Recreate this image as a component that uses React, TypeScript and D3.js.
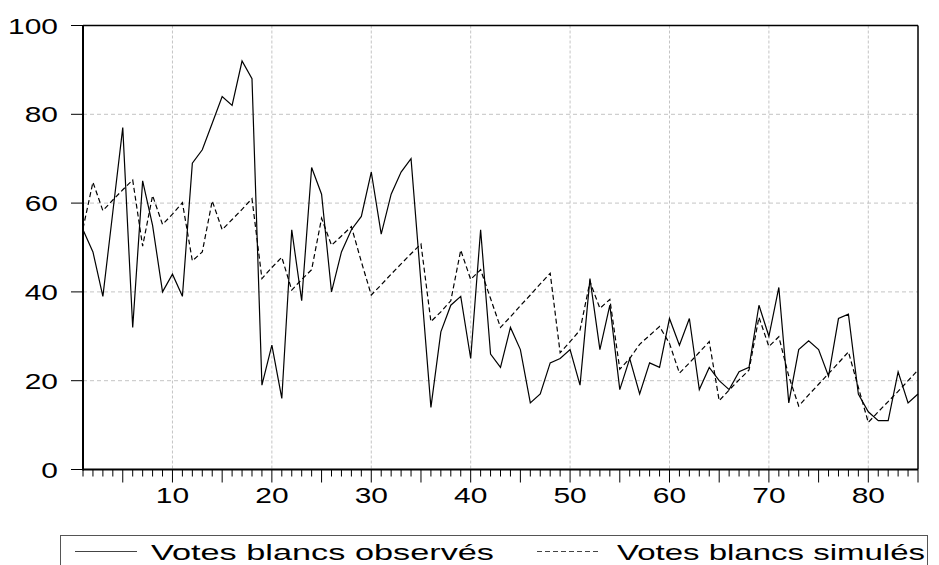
import React from "react";
import * as d3 from "d3";

const observed: number[] = [
  54, 49, 39, 58, 77, 32, 65, 55, 40, 44, 39, 69, 72, 78, 84, 82, 92, 88, 19, 28,
  16, 54, 38, 68, 62, 40, 49, 54, 57, 67, 53, 62, 67, 70, 42, 14, 31, 37, 39, 25,
  54, 26, 23, 32, 27, 15, 17, 24, 25, 27, 19, 43, 27, 37, 18, 25, 17, 24, 23, 34,
  28, 34, 18, 23, 20, 18, 22, 23, 37, 30, 41, 15, 27, 29, 27, 21, 34, 35, 17, 13,
  11, 11, 22, 15, 17,
];

const simulated: number[] = [
  54.3, 64.7, 58.3, 60.7, 63, 65.2, 50.3, 61.7, 55.2, 57.5, 60.1, 47, 49, 60.5, 54, 56.3, 58.6, 61, 43, 45.5,
  47.8, 40.4, 42.8, 45, 56.6, 50.5, 52.6, 54.7, 46.8, 39.3, 41.6, 44, 46.3, 48.6, 50.8, 33.3, 35.5, 38, 49.4, 42.8,
  45, 38.5, 32, 34.4, 36.9, 39.3, 41.8, 44.2, 26.3, 28.8, 31.4, 42.3, 36.3, 38.3, 22.6, 25, 28.2, 30.2, 32.2, 28.4,
  21.7, 24, 26.4, 28.8, 15.5, 17.9, 20.2, 22.4, 34.3, 27.7, 29.9, 21, 14.3, 16.8, 19.2, 21.6, 24, 26.5, 18.5, 10.6,
  13, 15.3, 17.6, 20, 22.4,
];

const xTickLabels: number[] = [10, 20, 30, 40, 50, 60, 70, 80];
const yTickLabels: number[] = [0, 20, 40, 60, 80, 100];
const seriesNames: string[] = ["Votes blancs observés", "Votes blancs simulés"];

const W = 939;
const H = 565;
const left = 83;
const right = 918;
const top = 25.5;
const bottom = 469.5;
const FONT = "'Liberation Sans', Arial, sans-serif";
const SX = 1.36;

export default function App() {
  const x = d3.scaleLinear().domain([1, observed.length]).range([left, right]);
  const y = d3.scaleLinear().domain([0, 100]).range([bottom, top]);
  const line = d3
    .line<number>()
    .x((_, i) => x(i + 1))
    .y((d) => y(d));

  const allTicks = d3.range(1, observed.length + 1);

  return (
    <svg
      width={W}
      height={H}
      style={{ position: "absolute", left: 0, top: 0, background: "#fff" }}
    >
      <rect x={0} y={0} width={W} height={H} fill="#fff" />
      {/* grid */}
      {xTickLabels.map((t) => (
        <line
          key={"gx" + t}
          x1={x(t)}
          x2={x(t)}
          y1={top}
          y2={bottom}
          stroke="#c4c4c4"
          strokeWidth={1}
          strokeDasharray="3,2"
        />
      ))}
      {yTickLabels
        .filter((t) => t > 0 && t < 100)
        .map((t) => (
          <line
            key={"gy" + t}
            x1={left}
            x2={right}
            y1={y(t)}
            y2={y(t)}
            stroke="#c4c4c4"
            strokeWidth={1}
            strokeDasharray="4,3"
          />
        ))}
      {/* series */}
      <path
        d={line(simulated) || ""}
        fill="none"
        stroke="#000"
        strokeWidth={1.2}
        strokeDasharray="5,3"
      />
      <path d={line(observed) || ""} fill="none" stroke="#000" strokeWidth={1.2} />
      {/* frame */}
      <line x1={left} x2={right} y1={top} y2={top} stroke="#000" strokeWidth={1.5} />
      <line x1={right} x2={right} y1={top} y2={bottom} stroke="#000" strokeWidth={1.5} />
      <line x1={left} x2={left} y1={top} y2={bottom + 1} stroke="#000" strokeWidth={2} />
      <line x1={left} x2={right} y1={bottom} y2={bottom} stroke="#000" strokeWidth={2} />
      {/* x ticks */}
      {allTicks.map((t) => (
        <line
          key={"xt" + t}
          x1={x(t)}
          x2={x(t)}
          y1={bottom}
          y2={bottom + (t % 5 === 0 ? 13 : 7)}
          stroke="#000"
          strokeWidth={1}
        />
      ))}
      {xTickLabels.map((t) => (
        <text
          key={"xl" + t}
          transform={`translate(${x(t)},503) scale(${SX},1)`}
          textAnchor="middle"
          fontFamily={FONT}
          fontSize={22}
          fill="#000"
        >
          {t}
        </text>
      ))}
      {/* y ticks */}
      {yTickLabels.map((t) => (
        <g key={"yt" + t}>
          <line x1={71} x2={left} y1={y(t)} y2={y(t)} stroke="#000" strokeWidth={1} />
          <text
            transform={`translate(58,${y(t) + 8}) scale(${SX},1)`}
            textAnchor="end"
            fontFamily={FONT}
            fontSize={22}
            fill="#000"
          >
            {t}
          </text>
        </g>
      ))}
      {/* legend */}
      <rect x={60.5} y={535.5} width={867} height={60} fill="none" stroke="#555" strokeWidth={1} />
      <line x1={75} x2={137} y1={551.5} y2={551.5} stroke="#444" strokeWidth={1} />
      <text
        x={151}
        y={560}
        fontFamily={FONT}
        fontSize={22}
        textLength={343}
        lengthAdjust="spacingAndGlyphs"
        fill="#000"
      >
        {seriesNames[0]}
      </text>
      <line
        x1={537}
        x2={600}
        y1={551.5}
        y2={551.5}
        stroke="#444"
        strokeWidth={1}
        strokeDasharray="5,3"
      />
      <text
        x={617}
        y={560}
        fontFamily={FONT}
        fontSize={22}
        textLength={308}
        lengthAdjust="spacingAndGlyphs"
        fill="#000"
      >
        {seriesNames[1]}
      </text>
    </svg>
  );
}
